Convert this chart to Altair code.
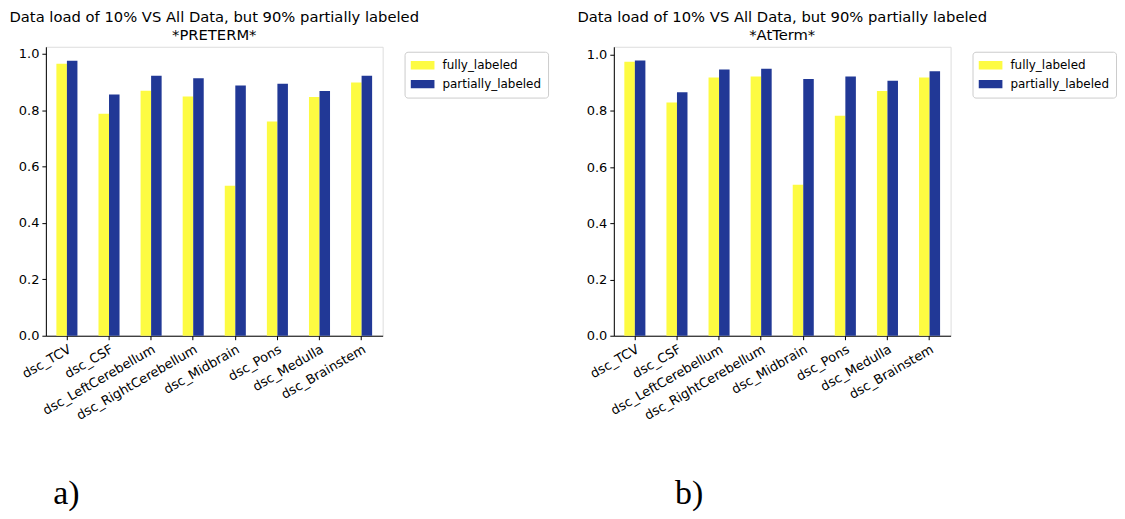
import altair as alt
import pandas as pd

categories = ["dsc_TCV", "dsc_CSF", "dsc_LeftCerebellum", "dsc_RightCerebellum",
              "dsc_Midbrain", "dsc_Pons", "dsc_Medulla", "dsc_Brainstem"]
series = ["fully_labeled", "partially_labeled"]
preterm_fully = [0.965, 0.787, 0.869, 0.849, 0.532, 0.760, 0.847, 0.898]
preterm_partial = [0.975, 0.856, 0.922, 0.913, 0.888, 0.894, 0.868, 0.922]
atterm_fully = [0.975, 0.830, 0.919, 0.922, 0.537, 0.783, 0.871, 0.919]
atterm_partial = [0.979, 0.866, 0.947, 0.950, 0.913, 0.922, 0.907, 0.941]
y_ticks = [0.0, 0.2, 0.4, 0.6, 0.8, 1.0]
colors = ["#fdfb42", "#213896"]
title_line = "Data load of 10% VS All Data, but 90% partially labeled"

FONT = "DejaVu Sans"


def panel(fully, partial, subtitle, tag, tag_x, ymax):
    rows = []
    for c, f, p in zip(categories, fully, partial):
        rows.append({"cat": c, "series": series[0], "value": f})
        rows.append({"cat": c, "series": series[1], "value": p})
    df = pd.DataFrame(rows)
    return alt.Chart(df).mark_bar(opacity=1).encode(
        x=alt.X("cat:N", sort=categories,
                scale=alt.Scale(paddingInner=0.5, paddingOuter=0.25),
                axis=alt.Axis(labelAngle=330, labelAlign="right", labelBaseline="top",
                              labelFont=FONT, labelFontSize=13, labelColor="black",
                              labelPadding=3, tickColor="black", tickSize=4,
                              domainColor="black",
                              title=tag, titleFont="Liberation Serif", titleFontSize=34,
                              titleFontWeight="normal", titleColor="black",
                              titleX=tag_x, titleY=168, titleAlign="left",
                              titleBaseline="alphabetic", titleAngle=0)),
        xOffset=alt.XOffset("series:N", sort=series,
                            scale=alt.Scale(paddingInner=0, paddingOuter=0)),
        y=alt.Y("value:Q", scale=alt.Scale(domain=[0, ymax], nice=False, zero=True),
                axis=alt.Axis(values=y_ticks, format=".1f", grid=False,
                              labelFont=FONT, labelFontSize=13, labelColor="black",
                              tickColor="black", tickSize=4, labelPadding=3,
                              domainColor="black", title=None)),
        color=alt.Color("series:N", sort=series,
                        scale=alt.Scale(domain=series, range=colors),
                        legend=alt.Legend(title=None, orient="none", legendX=360,
                                          legendY=5,
                                          labelFont=FONT, labelFontSize=12,
                                          labelColor="black", labelOffset=8,
                                          symbolType="M-1,-0.35L1,-0.35L1,0.35L-1,0.35Z",
                                          symbolSize=576, symbolStrokeWidth=0,
                                          symbolOpacity=1, clipHeight=15, rowPadding=4,
                                          padding=6, strokeColor="#cccccc",
                                          cornerRadius=3, fillColor="white")),
    ).properties(
        width=338, height=290,
        title=alt.TitleParams([title_line, subtitle], font=FONT, fontSize=14.8,
                              fontWeight="normal", color="black", anchor="middle",
                              lineHeight=18, offset=4),
    )


left = panel(preterm_fully, preterm_partial, "*PRETERM*", "a)", 7, 1.025)
right = panel(atterm_fully, atterm_partial, "*AtTerm*", "b)", 61, 1.028)

chart = alt.hconcat(left, right, spacing=27).resolve_legend(
    color="independent"
).properties(
    padding={"left": 0, "top": 0, "right": 0, "bottom": 0}
).configure_view(stroke="black", strokeWidth=1).configure(background="white")

chart.save("out.html", embed_options={"renderer": "svg", "actions": False})
